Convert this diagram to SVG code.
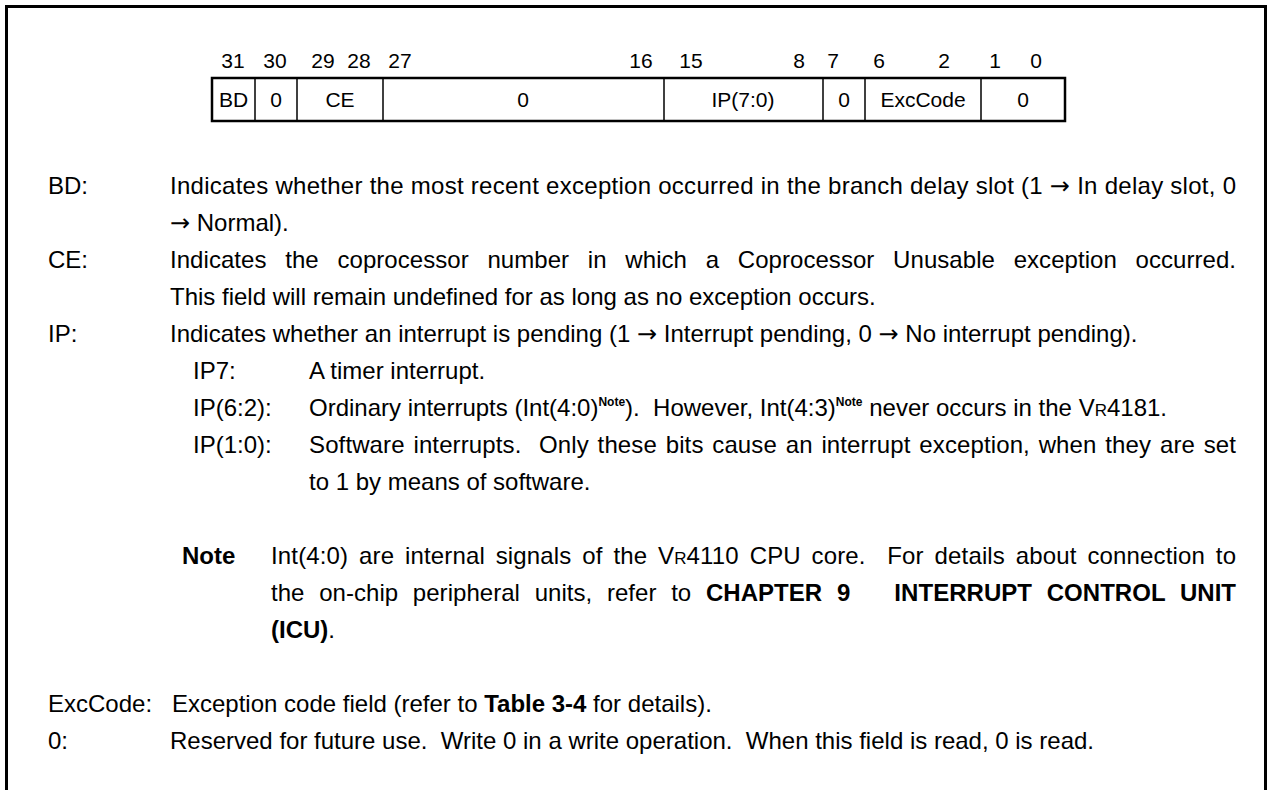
<svg xmlns="http://www.w3.org/2000/svg" width="1272" height="790" viewBox="0 0 1272 790">
<style>
text{font-family:"Liberation Sans",Arial,sans-serif;font-size:24px;fill:#000}
.num{font-size:21px;text-anchor:middle}
.cell{font-size:21px;text-anchor:middle}
.b{font-weight:bold}
.sup{font-size:12px;font-weight:bold}
.sc{font-size:17px}
.ar{font-family:"DejaVu Sans",sans-serif;font-size:24px}
.frame{fill:none;stroke:#000;stroke-width:3}
.box{fill:none;stroke:#000;stroke-width:2.5}
.div{stroke:#000;stroke-width:1.5}
</style>
<rect width="1272" height="790" fill="#fff"/>
<path class="frame" d="M6.5 790 V6.5 H1265.5 V790"/>
<g id="bitnumbers">
<text class="num" x="233" y="68">31</text>
<text class="num" x="275" y="68">30</text>
<text class="num" x="323" y="68">29</text>
<text class="num" x="359" y="68">28</text>
<text class="num" x="400" y="68">27</text>
<text class="num" x="641" y="68">16</text>
<text class="num" x="691" y="68">15</text>
<text class="num" x="799" y="68">8</text>
<text class="num" x="833" y="68">7</text>
<text class="num" x="879" y="68">6</text>
<text class="num" x="944" y="68">2</text>
<text class="num" x="995" y="68">1</text>
<text class="num" x="1036" y="68">0</text>
</g>
<g id="register">
<rect class="box" x="212" y="78" width="853" height="43"/>
<line class="div" x1="255" y1="78" x2="255" y2="121"/>
<line class="div" x1="297" y1="78" x2="297" y2="121"/>
<line class="div" x1="383" y1="78" x2="383" y2="121"/>
<line class="div" x1="664" y1="78" x2="664" y2="121"/>
<line class="div" x1="823" y1="78" x2="823" y2="121"/>
<line class="div" x1="865" y1="78" x2="865" y2="121"/>
<line class="div" x1="981" y1="78" x2="981" y2="121"/>
<text class="cell" x="233.5" y="107">BD</text>
<text class="cell" x="276" y="107">0</text>
<text class="cell" x="340" y="107">CE</text>
<text class="cell" x="523" y="107">0</text>
<text class="cell" x="743" y="107">IP(7:0)</text>
<text class="cell" x="844" y="107">0</text>
<text class="cell" x="923" y="107">ExcCode</text>
<text class="cell" x="1023" y="107">0</text>
</g>
<g id="desc-bd">
<text x="48" y="194">BD:</text>
<text x="170" y="194" textLength="1066" lengthAdjust="spacing">Indicates whether the most recent exception occurred in the branch delay slot (1 <tspan class="ar">→</tspan> In delay slot, 0</text>
<text x="170" y="231"><tspan class="ar">→</tspan> Normal).</text>
</g>
<g id="desc-ce">
<text x="48" y="268">CE:</text>
<text x="170" y="268" word-spacing="12" textLength="1066" lengthAdjust="spacing">Indicates the coprocessor number in which a Coprocessor Unusable exception occurred.</text>
<text x="170" y="305">This field will remain undefined for as long as no exception occurs.</text>
</g>
<g id="desc-ip">
<text x="48" y="342">IP:</text>
<text x="170" y="342">Indicates whether an interrupt is pending (1 <tspan class="ar">→</tspan> Interrupt pending, 0 <tspan class="ar">→</tspan> No interrupt pending).</text>
<text x="193" y="379">IP7:</text>
<text x="309" y="379">A timer interrupt.</text>
<text x="193" y="416">IP(6:2):</text>
<text x="309" y="416" xml:space="preserve">Ordinary interrupts (Int(4:0)<tspan class="sup" dy="-10">Note</tspan><tspan dy="10">).  However, Int(4:3)</tspan><tspan class="sup" dy="-10">Note</tspan><tspan dy="10"> never occurs in the V</tspan><tspan class="sc">R</tspan>4181.</text>
<text x="193" y="453">IP(1:0):</text>
<text x="309" y="453" word-spacing="2" textLength="927" lengthAdjust="spacing" xml:space="preserve">Software interrupts.  Only these bits cause an interrupt exception, when they are set</text>
<text x="309" y="490">to 1 by means of software.</text>
</g>
<g id="note">
<text x="182" y="564" class="b">Note</text>
<text x="271" y="564" word-spacing="4" textLength="965" lengthAdjust="spacing" xml:space="preserve">Int(4:0) are internal signals of the V<tspan class="sc">R</tspan>4110 CPU core.  For details about connection to</text>
<text x="271" y="601" word-spacing="8" textLength="965" lengthAdjust="spacing" xml:space="preserve">the on-chip peripheral units, refer to <tspan class="b">CHAPTER 9   INTERRUPT CONTROL UNIT</tspan></text>
<text x="271" y="638"><tspan class="b">(ICU)</tspan>.</text>
</g>
<g id="desc-exc">
<text x="48" y="712">ExcCode:</text>
<text x="172" y="712">Exception code field (refer to <tspan class="b">Table 3-4</tspan> for details).</text>
</g>
<g id="desc-zero">
<text x="48" y="749">0:</text>
<text x="170" y="749" xml:space="preserve">Reserved for future use.  Write 0 in a write operation.  When this field is read, 0 is read.</text>
</g>
</svg>
